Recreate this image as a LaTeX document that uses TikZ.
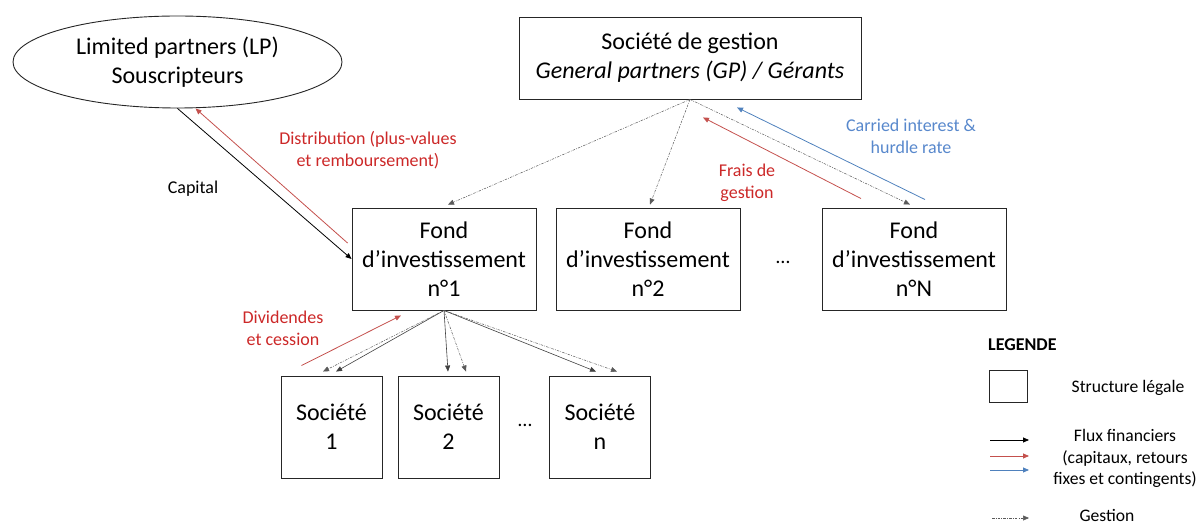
\documentclass[tikz,border=0pt]{standalone}
\usepackage{fontspec}
\setmainfont{Carlito}
\usetikzlibrary{arrows.meta,shapes.geometric}
\definecolor{redtext}{RGB}{204,40,40}
\definecolor{redarrow}{RGB}{196,80,77}
\definecolor{bluearrow}{RGB}{79,129,189}
\definecolor{bluetext}{RGB}{88,136,204}
\definecolor{gestgray}{RGB}{90,90,90}
\tikzset{
  box/.style={draw=black!85, line width=0.9pt, align=center, inner sep=0pt,
    font=\fontsize{24}{29}\selectfont},
  fondbox/.style={box, minimum width=184pt, minimum height=102pt},
  socbox/.style={box, minimum width=101pt, minimum height=102pt},
  lbl/.style={align=center, font=\fontsize{18}{22.2}\selectfont, inner sep=0pt},
  leg/.style={align=center, font=\fontsize{17.6}{21.6}\selectfont, inner sep=0pt},
  tip/.style={-{Triangle[length=6pt,width=5pt]}},
  flux/.style={tip, line width=0.8pt, black},
  fluxg/.style={tip, line width=0.6pt, black!75},
  fluxr/.style={tip, line width=0.8pt, redarrow},
  fluxb/.style={tip, line width=0.8pt, bluearrow},
  gest/.style={tip, line width=0.5pt, gestgray, dash pattern=on 2.5pt off 1.2pt on 0.8pt off 1.2pt},
}
\begin{document}
\begin{tikzpicture}[x=1pt,y=-1pt]
\useasboundingbox (0,0) rectangle (1202,526);

% nodes
\node[box, ellipse, minimum width=329pt, minimum height=92pt] (lp) at (177.5,62)
  {Limited partners (LP)\\Souscripteurs};
\node[box, minimum width=342pt, minimum height=82pt] (gest) at (690,58)
  {Société de gestion\\\textit{General partners (GP) / Gérants}};
\node[fondbox] (fond1) at (444,259) {Fond\\d’investissement\\n°1};
\node[fondbox] (fond2) at (648,259) {Fond\\d’investissement\\n°2};
\node[fondbox] (fondN) at (914,259) {Fond\\d’investissement\\n°N};
\node[font=\fontsize{20}{24}\selectfont] (dots1) at (783,262) {…};
\node[socbox] (soc1) at (331.5,427) {Société\\1};
\node[socbox] (soc2) at (448.5,427) {Société\\2};
\node[socbox] (socn) at (600,427) {Société\\n};
\node[font=\fontsize{20}{24}\selectfont] (dots2) at (525,425) {…};

% labels
\node[lbl, redtext] (ldist) at (368,150) {Distribution (plus-values\\et remboursement)};
\node[lbl] (lcap) at (193,189) {Capital};
\node[lbl, redtext] (lfrais) at (747,182.5) {Frais de\\gestion};
\node[lbl, bluetext] (lcarr) at (911,136) {Carried interest \&\\hurdle rate};
\node[lbl, redtext] (ldiv) at (283,328) {Dividendes\\et cession};

% gestion connectors
\draw[gest] (gest.south) -- ([xshift=4pt,yshift=3pt]fond1.north);
\draw[gest] (gest.south) -- ([xshift=2pt,yshift=3pt]fond2.north);
\draw[gest] (gest.south) -- ([xshift=-4pt,yshift=3pt]fondN.north);

% LP flows
\draw[flux] (lp.south) -- (fond1.west);
\draw[fluxr] ([xshift=-4pt,yshift=16pt]fond1.west) -- ([xshift=18pt]lp.south);

% GP flows
\draw[fluxr] ([xshift=-53pt,yshift=9pt]fondN.north) -- ([xshift=13pt,yshift=-18pt]gest.south);
\draw[fluxb] ([xshift=11pt,yshift=8pt]fondN.north) -- ([xshift=47pt,yshift=-8pt]gest.south);

% fund to companies
\draw[fluxr] ([xshift=-30pt,yshift=10pt]soc1.north) -- ([xshift=-43pt,yshift=-5pt]fond1.south);
\draw[fluxg] (fond1.south) -- ([xshift=4.5pt,yshift=4pt]soc1.north);
\draw[gest] (fond1.south) -- ([xshift=-8.5pt,yshift=4pt]soc1.north);
\draw[fluxg] (fond1.south) -- ([xshift=-0.5pt,yshift=4pt]soc2.north);
\draw[gest] (fond1.south) -- ([xshift=17.5pt,yshift=4pt]soc2.north);
\draw[fluxg] (fond1.south) -- ([xshift=-4pt,yshift=4pt]socn.north);
\draw[gest] (fond1.south) -- ([xshift=17pt,yshift=4pt]socn.north);

% legend
\node[anchor=west, inner sep=0pt, font=\fontsize{18}{22}\selectfont\bfseries] (legt) at (988,345) {LEGENDE};
\node[draw=black!85, line width=0.9pt, minimum width=38pt, minimum height=32pt, inner sep=0pt] (legbox) at (1008,386) {};
\node[leg] (legstr) at (1128,388) {Structure légale};
\node[leg] (legflux) at (1125,458.5) {Flux financiers\\(capitaux, retours\\fixes et contingents)};
\node[anchor=base, inner sep=0pt, font=\fontsize{17.6}{21.6}\selectfont] (leggest) at (1107,521.5) {Gestion};
\coordinate (a1s) at (990,440); \coordinate (a1e) at (1029,440);
\coordinate (a2s) at (990,456); \coordinate (a2e) at (1029,456);
\coordinate (a3s) at (990,470); \coordinate (a3e) at (1029,470);
\coordinate (a4s) at (992,518); \coordinate (a4e) at (1029,518);
\draw[flux] (a1s) -- (a1e);
\draw[fluxr] (a2s) -- (a2e);
\draw[fluxb] (a3s) -- (a3e);
\draw[gest] (a4s) -- (a4e);
\end{tikzpicture}
\end{document}
